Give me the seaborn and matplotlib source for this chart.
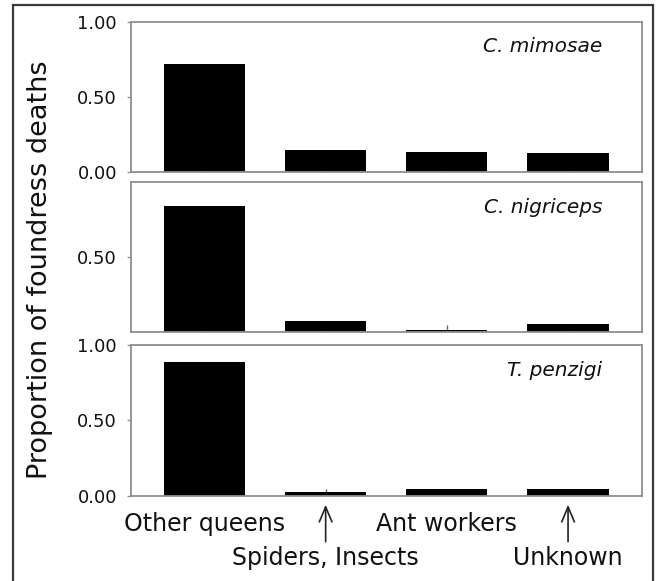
import matplotlib
matplotlib.use("Agg")
import matplotlib.pyplot as plt
import matplotlib.patches as mpatches
import seaborn as sns
import pandas as pd

# ---- data ----
causes = ["Other queens", "Spiders, Insects", "Ant workers", "Unknown"]
species = ["C. mimosae", "C. nigriceps", "T. penzigi"]
mimosae = [0.72, 0.148, 0.134, 0.128]
nigriceps = [0.84, 0.077, 0.018, 0.055]
penzigi = [0.89, 0.025, 0.042, 0.042]
ylabel = "Proportion of foundress deaths"

values = {"C. mimosae": mimosae, "C. nigriceps": nigriceps, "T. penzigi": penzigi}
rows = []
for sp in species:
    for c, v in zip(causes, values[sp]):
        rows.append({"species": sp, "cause": c, "proportion": v})
df = pd.DataFrame(rows)

sns.set_theme(style="white")
plt.rcParams["font.family"] = ["DejaVu Sans"]

W, H = 656, 581
fig = plt.figure(figsize=(W / 100, H / 100), dpi=100)

left_px, right_px = 131, 641.5
panels_px = [(21.7, 172.3), (182.3, 332.3), (345.0, 495.7)]
spine_col = "#8f8f8f"

axes = []
for i, (sp, (top, bot)) in enumerate(zip(species, panels_px)):
    ax = fig.add_axes([left_px / W, 1 - bot / H, (right_px - left_px) / W, (bot - top) / H])
    sub = df[df["species"] == sp]
    sns.barplot(data=sub, x="cause", y="proportion", order=causes, color="black",
                saturation=1, width=0.67, linewidth=0, ax=ax)
    ax.set_xlim(-0.606, 3.606)
    ax.set_ylim(0, 1)
    ax.set_xlabel("")
    ax.set_ylabel("")
    ax.set_axisbelow(True)
    for s in ax.spines.values():
        s.set_visible(True)
        s.set_color(spine_col)
        s.set_linewidth(1.3)
    if i == 1:
        ax.set_yticks([0.5])
    else:
        ax.set_yticks([0, 0.5, 1.0])
    ax.set_yticklabels([f"{t:.2f}" for t in ax.get_yticks()])
    ax.tick_params(axis="y", direction="out", length=3, width=1, color=spine_col,
                   labelsize=13, pad=7, labelcolor="#111111", left=True)
    ax.tick_params(axis="x", direction="in", length=5, width=1, color="#666666",
                   bottom=True)
    ax.set_xticks(range(len(causes)))
    if i < 2:
        ax.set_xticklabels([])
    else:
        ax.set_xticklabels([causes[0], "", causes[2], ""])
        ax.tick_params(axis="x", labelsize=17, pad=12, labelcolor="#111111")
        for k in (1, 3):
            ax.annotate("", xy=(k, -0.06), xytext=(k, -0.305),
                        xycoords=("data", "axes fraction"),
                        textcoords=("data", "axes fraction"),
                        arrowprops=dict(arrowstyle="->,head_length=0.9,head_width=0.38",
                                        color="#222222", lw=1.2, shrinkA=0, shrinkB=0),
                        annotation_clip=False)
            ax.annotate(causes[k], xy=(k, 0), xycoords=("data", "axes fraction"),
                        xytext=(0, -50), textcoords="offset points",
                        ha="center", va="baseline", fontsize=17, color="#111111",
                        annotation_clip=False)
    ax.text(0.923, 0.797, sp, transform=ax.transAxes, ha="right", va="baseline",
            fontsize=14.5, style="italic", color="#111111")
    axes.append(ax)

fig.text(40 / W, 1 - 270 / H, ylabel, rotation=90, ha="center", va="center",
         fontsize=19.5, color="#111111")

frame = mpatches.Rectangle((13 / W, -0.02), (653 - 13) / W, 1.02 - 5 / H + 0.0,
                           transform=fig.transFigure, fill=False,
                           edgecolor="#3a3a3a", linewidth=1.6)
fig.patches.append(frame)

fig.savefig("out.png", dpi=100)
